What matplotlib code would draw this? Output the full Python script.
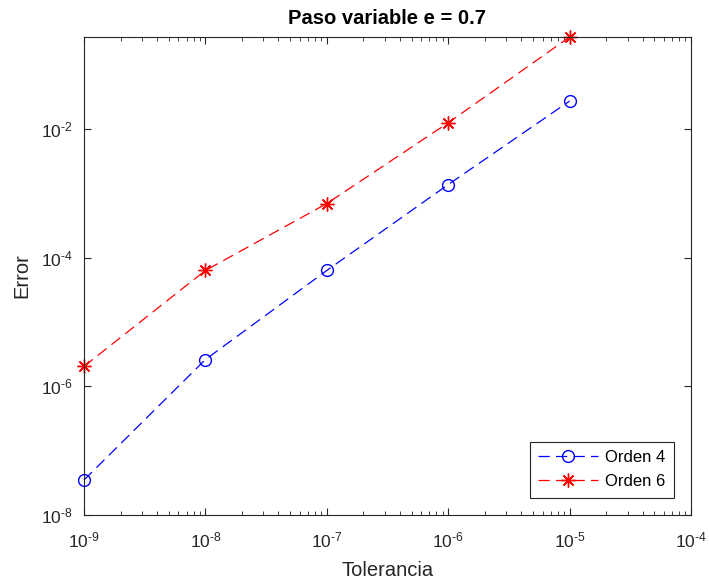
import matplotlib
matplotlib.use("Agg")
import matplotlib.pyplot as plt
from matplotlib.ticker import LogLocator, NullFormatter, FixedLocator, FuncFormatter
import math

plt.rcParams['font.family'] = ['Liberation Sans', 'DejaVu Sans']
plt.rcParams['mathtext.fontset'] = 'custom'
plt.rcParams['mathtext.rm'] = 'Liberation Sans'
plt.rcParams['mathtext.it'] = 'Liberation Sans:italic'
plt.rcParams['mathtext.bf'] = 'Liberation Sans:bold'
plt.rcParams['axes.unicode_minus'] = False

tol = [1e-9, 1e-8, 1e-7, 1e-6, 1e-5]
err4 = [3.5e-8, 2.6e-6, 6.3e-5, 1.36e-3, 2.7e-2]
err6 = [2.04e-6, 6.3e-5, 6.9e-4, 1.24e-2, 0.267]
labels = ['Orden 4', 'Orden 6']
xticks = [1e-9, 1e-8, 1e-7, 1e-6, 1e-5, 1e-4]
yticks = [1e-8, 1e-6, 1e-4, 1e-2]

fig = plt.figure(figsize=(7.1, 5.83), dpi=100)
ax = fig.add_axes([84/710, 1-515/583, (691-84)/710, (515-37)/583])

dk = '#262626'
ax.loglog(tol, err4, color='b', linestyle='--', marker='o', markerfacecolor='none',
          markersize=8.5, markeredgewidth=1.0, linewidth=0.9, dashes=(9, 5),
          label=labels[0], clip_on=False)
ax.loglog(tol, err6, color='r', linestyle='--', marker=(8, 2, 0), markersize=10,
          markeredgewidth=1.0, linewidth=0.9, dashes=(9, 5), label=labels[1], clip_on=False)

ax.set_xlim(1e-9, 1e-4)
ax.set_ylim(1e-8, max(err6))

def fmt(v, pos):
    e = int(round(math.log10(v)))
    return r'$\mathrm{10^{\text{-}%d}}$' % abs(e)

ax.yaxis.set_major_locator(FixedLocator(yticks))
ax.yaxis.set_minor_locator(FixedLocator([]))
ax.xaxis.set_major_locator(FixedLocator(xticks))
ax.xaxis.set_minor_locator(LogLocator(base=10, subs=range(2, 10)))
ax.xaxis.set_minor_formatter(NullFormatter())
ax.xaxis.set_major_formatter(FuncFormatter(fmt))
ax.yaxis.set_major_formatter(FuncFormatter(fmt))

for s in ax.spines.values():
    s.set_color(dk)
    s.set_linewidth(0.8)
ax.tick_params(which='both', direction='in', top=True, right=True, colors=dk,
               labelsize=12.5, labelcolor=dk)
ax.tick_params(which='major', length=5)
ax.tick_params(which='minor', length=3)
ax.tick_params(axis='x', pad=11)
ax.tick_params(axis='y', pad=8)

ax.set_title('Paso variable e = 0.7', fontsize=14.5, fontweight='bold', pad=9)
ax.set_xlabel('Tolerancia', fontsize=14.5, color=dk, labelpad=8)
ax.set_ylabel('Error', fontsize=14.5, color=dk, labelpad=7)

leg = ax.legend(loc='lower right', fontsize=12, fancybox=False, framealpha=1, edgecolor=dk,
                borderaxespad=1.05, handlelength=3.6, handletextpad=0.4, labelspacing=0.55,
                borderpad=0.5)
leg.get_frame().set_linewidth(0.8)

fig.savefig('out.png', dpi=100)
